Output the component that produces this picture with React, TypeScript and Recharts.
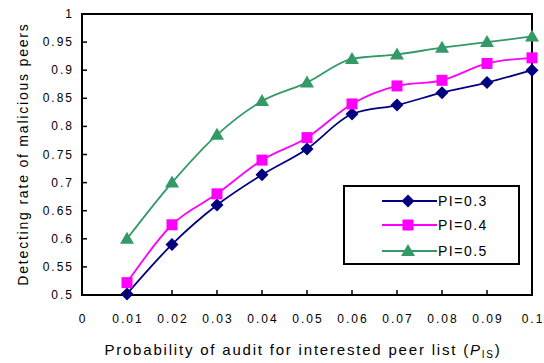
import {
  LineChart,
  Line,
  XAxis,
  YAxis,
  ReferenceArea,
} from 'recharts';

const xValues = [0.01, 0.02, 0.03, 0.04, 0.05, 0.06, 0.07, 0.08, 0.09, 0.1];
const pi03 = [0.502, 0.59, 0.66, 0.714, 0.76, 0.822, 0.838, 0.86, 0.878, 0.9];
const pi04 = [0.522, 0.625, 0.68, 0.74, 0.78, 0.84, 0.872, 0.882, 0.912, 0.922];
const pi05 = [0.6, 0.7, 0.785, 0.845, 0.878, 0.92, 0.928, 0.94, 0.95, 0.96];

const xTicks = [0, 0.01, 0.02, 0.03, 0.04, 0.05, 0.06, 0.07, 0.08, 0.09, 0.1];
const yTicks = [0.5, 0.55, 0.6, 0.65, 0.7, 0.75, 0.8, 0.85, 0.9, 0.95, 1];

const NAVY = '#000080';
const MAGENTA = '#ff00ff';
const GREEN = '#339966';
const FONT = '"Liberation Sans", Arial, sans-serif';

const data = xValues.map((x, i) => ({ x, a: pi03[i], b: pi04[i], c: pi05[i] }));

const series = [
  { key: 'a', name: 'PI=0.3', color: NAVY, shape: 'diamond' },
  { key: 'b', name: 'PI=0.4', color: MAGENTA, shape: 'square' },
  { key: 'c', name: 'PI=0.5', color: GREEN, shape: 'triangle' },
];

function Marker({ cx, cy, shape, color }: any) {
  if (cx == null || cy == null) return null;
  if (shape === 'diamond')
    return <polygon points={`${cx},${cy - 6.5} ${cx + 6.5},${cy} ${cx},${cy + 6.5} ${cx - 6.5},${cy}`} fill={color} />;
  if (shape === 'square') return <rect x={cx - 5.5} y={cy - 5.5} width={11} height={11} fill={color} />;
  return <polygon points={`${cx},${cy - 7} ${cx + 7},${cy + 5} ${cx - 7},${cy + 5}`} fill={color} />;
}

function XTick({ x, payload }: any) {
  const v = payload.value;
  const inner = v > 0 && v < 0.1;
  return (
    <g>
      {inner && <line x1={x} x2={x} y1={295} y2={290} stroke="#000" strokeWidth={1.5} />}
      <text x={x + 1} y={323} textAnchor="middle" fontSize={12} fontFamily={FONT} letterSpacing={2} fill="#000">
        {v === 0 ? '0' : v === 0.1 ? '0.1' : v.toFixed(2)}
      </text>
    </g>
  );
}

function YTick({ y, payload }: any) {
  const v = payload.value;
  const inner = v > 0.5 && v < 1;
  const label = String(Number(v.toFixed(2)));
  return (
    <g>
      {inner && <line x1={82} x2={87} y1={y} y2={y} stroke="#000" strokeWidth={1.5} />}
      <text x={74} y={y + 4} textAnchor="end" fontSize={12} fontFamily={FONT} letterSpacing={2} fill="#000">
        {label}
      </text>
    </g>
  );
}

const legendRowTops = [16, 40, 66];

function LegendBox() {
  return (
    <div
      style={{
        position: 'absolute',
        left: 343,
        top: 185,
        width: 177,
        height: 80,
        border: '2px solid #000',
        background: '#fff',
        boxSizing: 'border-box',
      }}
    >
      {series.map((s, i) => (
        <div
          key={s.key}
          style={{ position: 'absolute', left: 0, top: legendRowTops[i] - 2 - 9, display: 'flex', alignItems: 'center', height: 18 }}
        >
          <svg width={93} height={18} style={{ display: 'block' }}>
            <line x1={37} x2={92} y1={9} y2={9} stroke={s.color} strokeWidth={1.8} />
            <Marker cx={63} cy={9} shape={s.shape} color={s.color} />
          </svg>
          <span style={{ fontFamily: FONT, fontSize: 14, letterSpacing: 1.5, lineHeight: '18px' }}>{s.name}</span>
        </div>
      ))}
    </div>
  );
}

export default function App() {
  return (
    <div style={{ position: 'absolute', left: 0, top: 0, width: 544, height: 363, background: '#fff' }}>
      <LineChart width={544} height={363} data={data} margin={{ top: 14, right: 12, left: 0, bottom: 0 }}>
        <ReferenceArea x1={0} x2={0.1} y1={0.5} y2={1} fill="none" stroke="#000" strokeWidth={2} ifOverflow="visible" />
        <XAxis
          dataKey="x"
          type="number"
          domain={[0, 0.1]}
          ticks={xTicks}
          height={68}
          axisLine={{ stroke: '#000', strokeWidth: 2 }}
          tickLine={false}
          tick={<XTick />}
          interval={0}
          label={() => (
            <text x={303} y={355} textAnchor="middle" fontSize={15} fontFamily={FONT} letterSpacing={1.8} fill="#000">
              Probability of audit for interested peer list (
              <tspan fontStyle="italic">P</tspan>
              <tspan fontSize={10} dy={3}>IS</tspan>
              <tspan dy={-3}>)</tspan>
            </text>
          )}
        />
        <YAxis
          type="number"
          domain={[0.5, 1]}
          ticks={yTicks}
          width={82}
          axisLine={{ stroke: '#000', strokeWidth: 2 }}
          tickLine={false}
          tick={<YTick />}
          interval={0}
          label={() => (
            <text
              x={28}
              y={154}
              transform="rotate(-90 28 154)"
              textAnchor="middle"
              fontSize={14}
              fontFamily={FONT}
              letterSpacing={1.8}
              fill="#000"
            >
              Detecting rate of malicious peers
            </text>
          )}
        />
        {series.map((s) => (
          <Line
            key={s.key}
            dataKey={s.key}
            name={s.name}
            type="monotone"
            stroke={s.color}
            strokeWidth={1.8}
            dot={(p: any) => <Marker key={p.index} cx={p.cx} cy={p.cy} shape={s.shape} color={s.color} />}
            activeDot={false}
            isAnimationActive={false}
          />
        ))}
      </LineChart>
      <LegendBox />
    </div>
  );
}
